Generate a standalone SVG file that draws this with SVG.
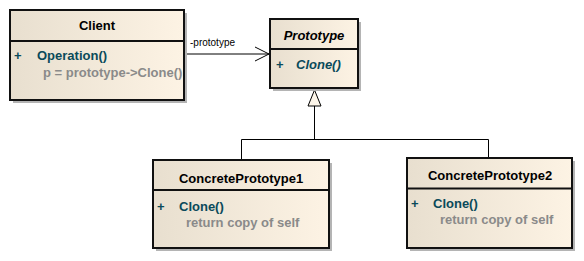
<svg xmlns="http://www.w3.org/2000/svg" width="584" height="261" viewBox="0 0 584 261">
  <defs>
    <linearGradient id="boxFill" x1="0" y1="0" x2="1" y2="0">
      <stop offset="0" stop-color="#e8dfcf"/>
      <stop offset="1" stop-color="#fdf3e4"/>
    </linearGradient>
    <marker id="openArrow" markerWidth="16" markerHeight="16" refX="15" refY="8" orient="auto" markerUnits="userSpaceOnUse">
      <path d="M1,1 L15,8 L1,15" fill="none" stroke="#000" stroke-width="1"/>
    </marker>
  </defs>
  <style>
    .shadow { fill: #b4b4b4; }
    .box { fill: url(#boxFill); stroke: #111; stroke-width: 2; }
    .sep { stroke: #111; stroke-width: 2; }
    .name { font-family: "Liberation Sans", Arial, sans-serif; font-size: 13px; font-weight: bold; fill: #000; text-anchor: middle; }
    .abstract { font-style: italic; }
    .vis { font-family: "Liberation Sans", Arial, sans-serif; font-size: 13px; font-weight: bold; fill: #0a4a5a; }
    .op { font-family: "Liberation Sans", Arial, sans-serif; font-size: 13px; font-weight: bold; fill: #0a4a5a; }
    .code { font-family: "Liberation Sans", Arial, sans-serif; font-size: 13px; font-weight: bold; fill: #8a8a8a; }
    .role { font-family: "Liberation Sans", Arial, sans-serif; font-size: 10px; fill: #000; }
    .line { fill: none; stroke: #000; stroke-width: 1; }
  </style>

  <g id="connectors">
    <!-- association Client -> Prototype -->
    <path class="line" d="M185,54 H269" marker-end="url(#openArrow)"/>
    <text class="role" x="190" y="46">-prototype</text>
    <!-- generalization tree -->
    <path class="line" d="M241.5,160 V139.5 H488.5 V158 M314.5,139.5 V106"/>
    <path d="M314.5,90 L321,106 L308,106 Z" fill="#fdf6ea" stroke="#000" stroke-width="1"/>
  </g>

  <g id="client">
    <rect class="shadow" x="13" y="13" width="174" height="90"/>
    <rect class="box" x="10" y="10" width="174" height="90"/>
    <line class="sep" x1="10" y1="41" x2="184" y2="41"/>
    <text class="name" x="97" y="30">Client</text>
    <text class="vis" x="14" y="60">+</text>
    <text class="op" x="37" y="60">Operation()</text>
    <text class="code" x="43" y="77">p = prototype-&gt;Clone()</text>
  </g>

  <g id="prototype">
    <rect class="shadow" x="273" y="22" width="88" height="69"/>
    <rect class="box" x="270" y="19" width="88" height="69"/>
    <line class="sep" x1="270" y1="49" x2="358" y2="49"/>
    <text class="name abstract" x="314" y="40">Prototype</text>
    <text class="vis" x="276" y="69">+</text>
    <text class="op abstract" x="296" y="69">Clone()</text>
  </g>

  <g id="concretePrototype1">
    <rect class="shadow" x="156" y="163" width="176" height="88"/>
    <rect class="box" x="153" y="160" width="176" height="88"/>
    <line class="sep" x1="153" y1="190" x2="329" y2="190"/>
    <text class="name" x="241" y="183">ConcretePrototype1</text>
    <text class="vis" x="157" y="211">+</text>
    <text class="op" x="179" y="211">Clone()</text>
    <text class="code" x="186" y="227">return copy of self</text>
  </g>

  <g id="concretePrototype2">
    <rect class="shadow" x="410" y="161" width="165" height="90"/>
    <rect class="box" x="407" y="158" width="165" height="90"/>
    <line class="sep" x1="407" y1="188.5" x2="572" y2="188.5"/>
    <text class="name" x="490" y="180">ConcretePrototype2</text>
    <text class="vis" x="411" y="208">+</text>
    <text class="op" x="433" y="208">Clone()</text>
    <text class="code" x="440" y="224">return copy of self</text>
  </g>
</svg>
